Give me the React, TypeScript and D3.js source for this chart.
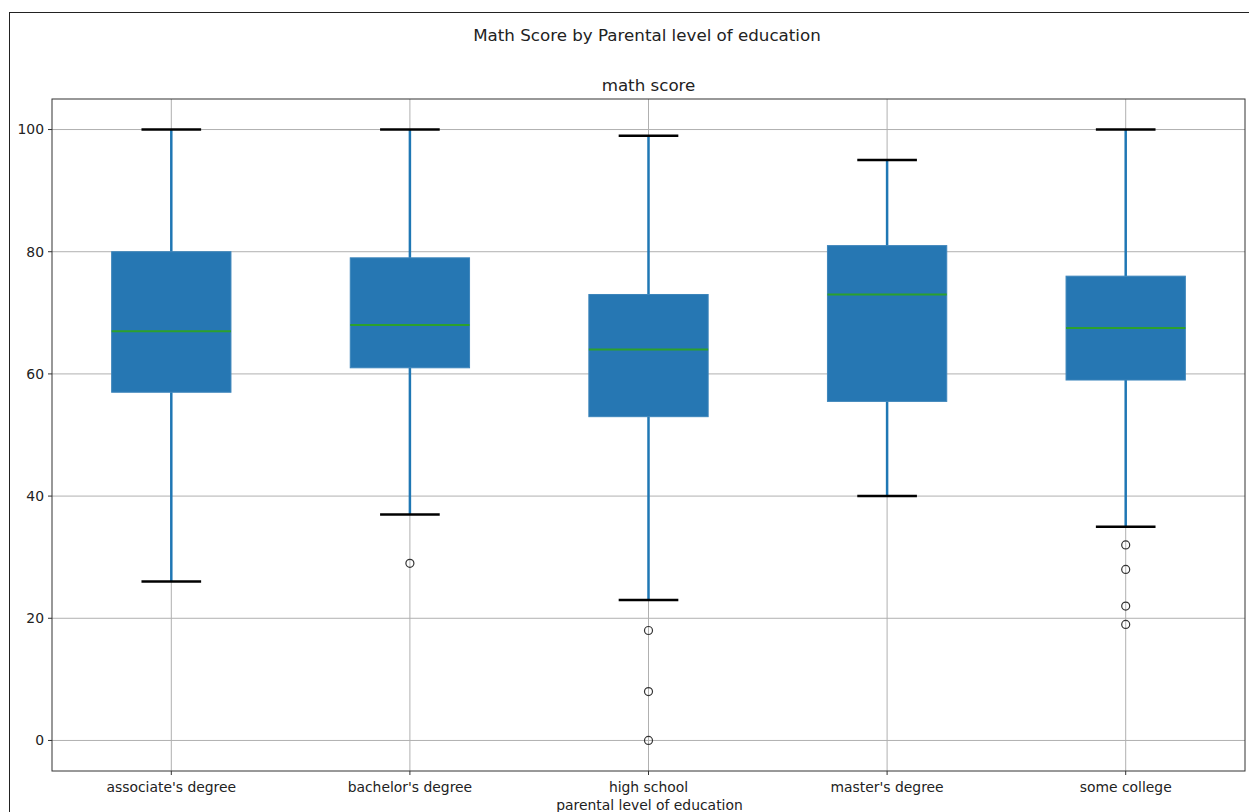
import React from "react";
import * as d3 from "d3";

// values
const categories = ["associate's degree", "bachelor's degree", "high school", "master's degree", "some college"];
const whiskerHigh = [100, 100, 99, 95, 100];
const q3 = [80, 79, 73, 81, 76];
const medians = [67, 68, 64, 73, 67.5];
const q1 = [57, 61, 53, 55.5, 59];
const whiskerLow = [26, 37, 23, 40, 35];
const outliers = [[], [29], [18, 8, 0], [], [32, 28, 22, 19]];
const yTicks = [0, 20, 40, 60, 80, 100];

const W = 1249;
const H = 812;
const margin = { left: 52, right: 1245, top: 99, bottom: 771 };

const App = () => {
  const x = d3.scaleBand<string>()
    .domain(categories)
    .range([margin.left, margin.right]);

  const y = d3.scaleLinear()
    .domain([-5, 105])
    .range([margin.bottom, margin.top]);

  const bw = x.bandwidth();
  const font = "DejaVu Sans, sans-serif";

  return (
    <svg width={W} height={H} style={{ position: "absolute", left: 0, top: 0, background: "white" }} fontFamily={font}>
      {/* figure border */}
      <rect x={9.5} y={12.5} width={W + 40} height={H + 40} fill="white" stroke="#222" strokeWidth={1} />

      <text x={647} y={41} textAnchor="middle" fontSize={16.7} fill="#222">
        Math Score by Parental level of education
      </text>
      <text x={(margin.left + margin.right) / 2} y={91} textAnchor="middle" fontSize={16.7} fill="#222">
        math score
      </text>

      {/* grid */}
      {yTicks.map(t => (
        <line key={"gy" + t} x1={margin.left} x2={margin.right} y1={y(t)} y2={y(t)} stroke="#b0b0b0" strokeWidth={1} />
      ))}
      {categories.map(c => (
        <line key={"gx" + c} x1={x(c)! + bw / 2} x2={x(c)! + bw / 2} y1={margin.top} y2={margin.bottom} stroke="#b0b0b0" strokeWidth={1} />
      ))}

      {/* boxes */}
      {categories.map((c, i) => {
        const cx = x(c)! + bw / 2;
        const boxW = bw * 0.5;
        const capW = bw * 0.25;
        return (
          <g key={c}>
            <line x1={cx} x2={cx} y1={y(q3[i])} y2={y(whiskerHigh[i])} stroke="#1f77b4" strokeWidth={2.5} />
            <line x1={cx} x2={cx} y1={y(q1[i])} y2={y(whiskerLow[i])} stroke="#1f77b4" strokeWidth={2.5} />
            <line x1={cx - capW / 2} x2={cx + capW / 2} y1={y(whiskerHigh[i])} y2={y(whiskerHigh[i])} stroke="#000" strokeWidth={2.5} />
            <line x1={cx - capW / 2} x2={cx + capW / 2} y1={y(whiskerLow[i])} y2={y(whiskerLow[i])} stroke="#000" strokeWidth={2.5} />
            <rect x={cx - boxW / 2} y={y(q3[i])} width={boxW} height={y(q1[i]) - y(q3[i])} fill="#2677b3" stroke="#3d85bb" strokeWidth={1} />
            <line x1={cx - boxW / 2} x2={cx + boxW / 2} y1={y(medians[i])} y2={y(medians[i])} stroke="#2ca02c" strokeWidth={2} />
            {outliers[i].map((o, j) => (
              <circle key={j} cx={cx} cy={y(o)} r={4} fill="none" stroke="#333" strokeWidth={1.2} />
            ))}
          </g>
        );
      })}

      {/* spines */}
      <rect x={margin.left} y={margin.top} width={margin.right - margin.left} height={margin.bottom - margin.top} fill="none" stroke="#333" strokeWidth={1} />

      {/* y axis */}
      {yTicks.map(t => (
        <g key={"yt" + t}>
          <line x1={margin.left - 4} x2={margin.left} y1={y(t)} y2={y(t)} stroke="#333" />
          <text x={margin.left - 8} y={y(t)} dy="0.35em" textAnchor="end" fontSize={13.9} fill="#222">{t}</text>
        </g>
      ))}

      {/* x axis */}
      {categories.map(c => (
        <g key={"xt" + c}>
          <line x1={x(c)! + bw / 2} x2={x(c)! + bw / 2} y1={margin.bottom} y2={margin.bottom + 4} stroke="#333" />
          <text x={x(c)! + bw / 2} y={margin.bottom + 21} textAnchor="middle" fontSize={13.9} fill="#222">{c}</text>
        </g>
      ))}
      <text x={(margin.left + margin.right) / 2 + 1} y={810} textAnchor="middle" fontSize={13.9} fill="#222">
        parental level of education
      </text>
    </svg>
  );
};

export default App;
